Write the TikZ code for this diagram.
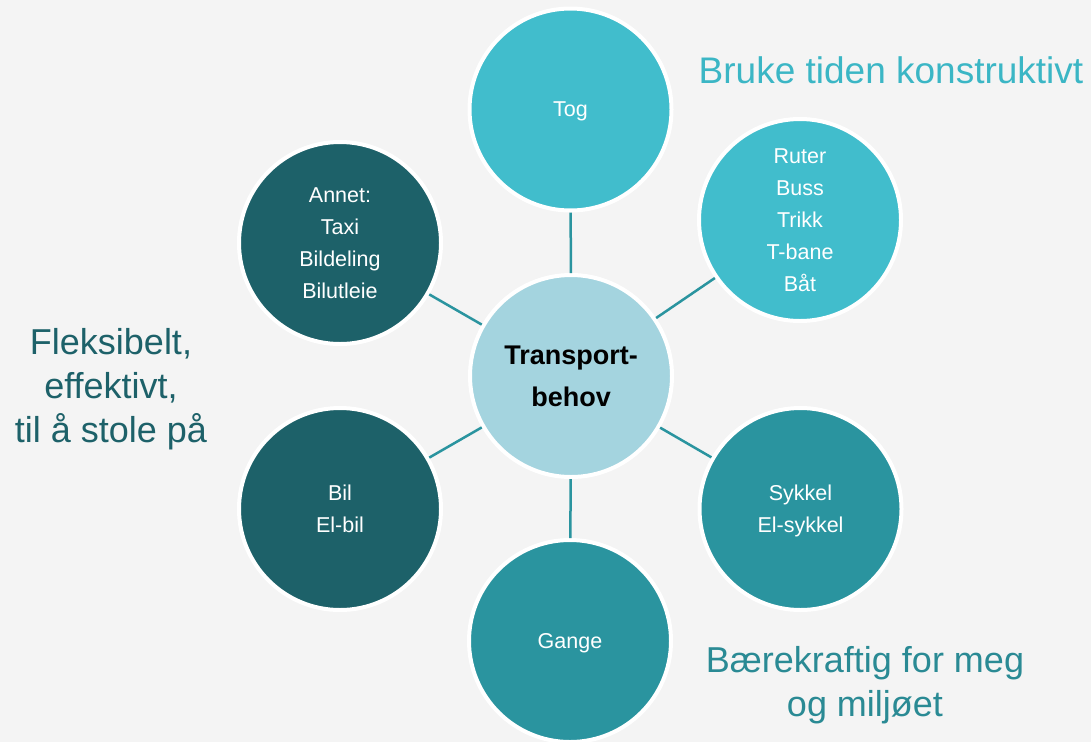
\documentclass[tikz,border=0pt]{standalone}
\usepackage{fontspec}
\setmainfont[Ligatures=NoCommon]{Liberation Sans}
\usetikzlibrary{positioning}
\definecolor{bggray}{HTML}{F4F4F4}
\definecolor{lightteal}{HTML}{41BDCC}
\definecolor{midteal}{HTML}{2A949F}
\definecolor{darkteal}{HTML}{1D6169}
\definecolor{paleteal}{HTML}{A4D4DF}
\definecolor{headteal}{HTML}{3BB6C5}
\definecolor{greenteal}{HTML}{2A8A94}

\begin{document}
\begin{tikzpicture}[x=1pt,y=-1pt]
  \tikzset{CircleStyle/.style = {
    shape         = circle,
    draw          = white,
    line width    = 4pt,
    text          = white,
    align         = center,
    inner sep     = 0pt,
    text depth    = 0pt,
    minimum size  = 202pt,
    font          = \fontsize{21.5}{32}\selectfont
    }
  }
  \tikzset{EdgeStyle/.style = {
    draw          = midteal,
    line width    = 2.5pt
    }
  }
  \tikzset{SloganStyle/.style = {
    align         = center,
    font          = \fontsize{36}{44}\selectfont
    }
  }

	\fill[bggray] (0,0) rectangle (1091,742);
	\useasboundingbox (0,0) rectangle (1091,742);

	\node[CircleStyle, fill=paleteal, text=black, font=\fontsize{27}{42}\selectfont\bfseries](Behov) at (571, 376) {Transport-\\behov};
	\node[CircleStyle, fill=lightteal](Tog) at (570.5, 109.5) {Tog};
	\node[CircleStyle, fill=lightteal](Ruter) at (800, 220) {Ruter\\Buss\\Trikk\\T-bane\\Båt};
	\node[CircleStyle, fill=midteal](Sykkel) at (800.5, 509) {Sykkel\\El-sykkel};
	\node[CircleStyle, fill=midteal](Gange) at (570, 641) {Gange};
	\node[CircleStyle, fill=darkteal](Bil) at (340, 509) {Bil\\El-bil};
	\node[CircleStyle, fill=darkteal](Annet) at (340, 243) {Annet:\\Taxi\\Bildeling\\Bilutleie};
	\draw[EdgeStyle](Behov) to (Tog);
	\draw[EdgeStyle](Behov) to (Ruter);
	\draw[EdgeStyle](Behov) to (Sykkel);
	\draw[EdgeStyle](Behov) to (Gange);
	\draw[EdgeStyle](Behov) to (Bil);
	\draw[EdgeStyle](Behov) to (Annet);

	\node[SloganStyle, text=headteal, font=\fontsize{37}{44}\selectfont](Bruke) at (891, 70) {Bruke tiden konstruktivt};
	\node[SloganStyle, text=darkteal](Fleksibel) at (111, 389) {Fleksibelt,\\effektivt,\\til å stole på};
	\node[SloganStyle, text=greenteal](Baerekraft) at (865, 685) {Bærekraftig for meg\\og miljøet};
\end{tikzpicture}
\end{document}
